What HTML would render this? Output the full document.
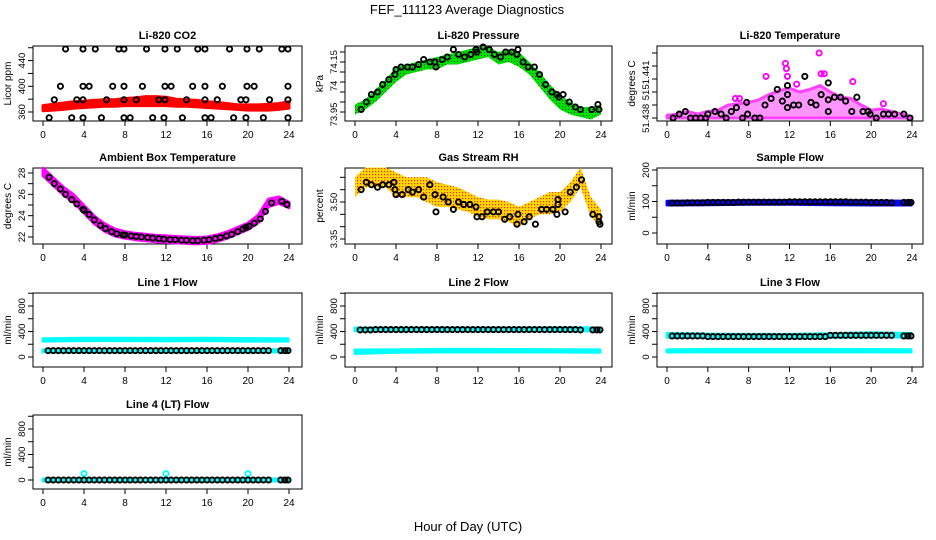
<!DOCTYPE html>
<html><head><meta charset="utf-8"><title>FEF_111123 Average Diagnostics</title>
<style>
html,body{margin:0;padding:0;background:#fff;}
svg{display:block;font-family:"Liberation Sans",Arial,sans-serif;}
.tk{font-size:10px;fill:#000;}
.ytk{font-size:9.5px;fill:#000;}
.ttl{font-size:11px;font-weight:bold;fill:#000;}
</style></head>
<body>
<svg id="fig" width="936" height="540" viewBox="0 0 936 540" xmlns="http://www.w3.org/2000/svg">
<defs>
<pattern id="rhPat" width="3" height="3" patternUnits="userSpaceOnUse"><rect width="3" height="3" fill="#ffd700"/><rect x="0" y="0" width="1.2" height="1.2" fill="#e8301a"/></pattern>
<pattern id="grPat" width="3" height="3" patternUnits="userSpaceOnUse"><rect width="3" height="3" fill="#00e000"/><rect x="1" y="1" width="1" height="1" fill="#1a5a1a"/></pattern>
</defs>
<rect x="0" y="0" width="936" height="540" fill="#fff"/>
<text x="467" y="14" text-anchor="middle" font-size="13">FEF_111123  Average Diagnostics</text>
<text x="468" y="531" text-anchor="middle" font-size="13">Hour of Day (UTC)</text>
</svg>
<script>
// ---------- data ----------
const xTicks = [0,4,8,12,16,20,24];
const bandHours = [0,1,2,3,4,5,6,7,8,9,10,11,12,13,14,15,16,17,18,19,20,21,22,23,24];
const flatHours = [0,4,8,12,16,20,23.9];

// Li-820 CO2
const co2Lo = [362,363,364,366,367,368,369,369,370,370,370,370,370,369,369,368,367,366,365,364,363,363,363,364,366];
const co2Hi = [370,372,374,376,377,378,379,379,381,382,384,384,383,380,379,378,376,375,373,371,371,371,372,373,376];
const co2PtX = [2.2,3.9,5.1,7.4,7.9,10.1,11.9,13.1,15.1,15.8,18.2,19.9,21.1,23.3,23.9, 1.7,3.9,4.5,6.8,7.9,9.7,11.9,12.5,14.6,15.8,17.5,19.9,20.6,23.9, 1.1,3.3,3.9,6.2,7.9,9.1,11.3,11.9,14.0,15.8,17.0,19.3,19.8,22.1,23.9, 0.6,2.8,3.9,5.7,7.9,8.5,10.7,11.8,13.6,15.8,16.4,18.6,19.8,21.5,23.9];
const co2PtY = [458,458,458,458,458,458,458,458,458,458,458,458,458,458,458, 400,400,400,400,400,400,400,400,400,400,400,400,400,400, 379,379,379,379,379,379,379,379,379,379,379,379,379,379,379, 351,351,351,351,351,351,351,351,351,351,351,351,351,351,351];

// Li-820 Pressure
const presLo = [73.94,73.96,73.99,74.03,74.07,74.10,74.11,74.12,74.12,74.14,74.14,74.15,74.16,74.17,74.14,74.15,74.13,74.10,74.05,74.00,73.96,73.94,73.93,73.92,73.94];
const presHi = [73.98,74.00,74.04,74.08,74.13,74.14,74.15,74.16,74.17,74.18,74.19,74.20,74.21,74.21,74.19,74.20,74.19,74.15,74.11,74.06,74.02,73.99,73.97,73.97,73.98];
const presPtX = [0.6,1.1,1.6,2.2,2.7,3.3,3.9,4.0,4.5,5.1,5.6,6.2,6.7,7.3,7.8,7.9,8.5,9.0,9.6,10.1,10.7,11.3,11.8,11.9,12.5,13.1,13.6,14.2,14.7,15.3,15.8,15.9,16.4,16.9,17.5,18.0,18.6,19.2,19.7,19.9,20.3,20.9,21.5,22.0,23.1,23.7,23.8];
const presPtY = [73.96,73.99,74.02,74.03,74.06,74.08,74.10,74.12,74.13,74.13,74.13,74.14,74.16,74.15,74.15,74.13,74.16,74.17,74.20,74.18,74.17,74.18,74.20,74.19,74.21,74.20,74.18,74.17,74.19,74.19,74.18,74.20,74.15,74.13,74.13,74.10,74.06,74.03,74.02,74.01,74.02,73.99,73.97,73.96,73.96,73.98,73.96];

// Li-820 Temperature
const tmpLo = [51.4380,51.4380,51.4380,51.4380,51.4380,51.4380,51.4380,51.4380,51.4380,51.4380,51.4380,51.4380,51.4380,51.4380,51.4380,51.4380,51.4380,51.4380,51.4380,51.4380,51.4380,51.4380,51.4380,51.4380,51.4380];
const tmpHi = [51.4382,51.4383,51.4385,51.4383,51.4385,51.4386,51.4390,51.4391,51.4392,51.4394,51.4398,51.4401,51.4403,51.4400,51.4402,51.4405,51.4400,51.4396,51.4395,51.4390,51.4386,51.4387,51.4385,51.4383,51.4381];
const tmpOutX = [11.6,11.7,14.9,15.1,9.7,11.8,21.2,6.7,7.1,15.4,12.7,18.2];
const tmpOutY = [51.4422,51.4418,51.4430,51.4414,51.4412,51.4412,51.4391,51.4395,51.4395,51.4414,51.4406,51.4408];
const tmpPtX = [0.6,1.2,1.8,2.3,2.8,3.3,3.8,4.0,4.7,5.3,5.8,6.3,6.8,7.4,7.9,7.8,8.6,9.1,9.6,10.2,10.8,11.3,11.8,11.8,11.8,12.4,12.9,13.5,14.1,14.6,15.1,15.8,15.8,15.8,16.4,17.0,17.5,18.1,18.6,19.2,19.7,19.9,20.5,21.2,21.7,22.3,23.2,23.8];
const tmpPtY = [51.4380,51.4383,51.4385,51.4380,51.4380,51.4380,51.4380,51.4383,51.4385,51.4383,51.4380,51.4385,51.4388,51.4380,51.4383,51.4392,51.4380,51.4380,51.4390,51.4395,51.4402,51.4393,51.4398,51.4405,51.4388,51.4390,51.4390,51.4412,51.4392,51.4390,51.4398,51.4385,51.4394,51.4407,51.4396,51.4396,51.4393,51.4385,51.4396,51.4385,51.4385,51.4383,51.4380,51.4383,51.4383,51.4383,51.4383,51.4380];

// Ambient Box Temperature
const ambLo = [27.75,26.85,25.95,25.25,24.25,23.25,22.55,22.1,21.9,21.75,21.65,21.55,21.5,21.45,21.4,21.35,21.4,21.6,21.9,22.3,22.7,23.35,24.85,25.15,24.75];
const ambHi = [28.45,27.55,26.65,25.95,24.95,23.95,23.25,22.75,22.5,22.35,22.25,22.15,22.1,22.05,22.0,21.95,22.0,22.2,22.5,22.9,23.3,24.05,25.55,25.75,25.25];
const ambPtX = [0.6,1.1,1.7,2.2,2.8,3.3,3.9,4.0,4.5,5.0,5.6,6.1,6.7,7.2,7.8,8.0,8.6,9.1,9.6,10.2,10.7,11.3,11.8,12.4,12.9,13.5,14.0,14.6,15.1,15.7,16.2,16.8,17.3,17.9,18.4,19.0,19.5,19.8,20.1,20.6,21.2,21.7,22.3,23.3,23.8];
const ambPtY = [27.6,27.0,26.5,26.0,25.5,25.1,24.6,24.5,24.1,23.6,23.1,22.8,22.5,22.3,22.2,22.2,22.1,22.05,22.0,21.95,21.9,21.85,21.8,21.75,21.75,21.7,21.7,21.65,21.65,21.7,21.75,21.85,21.95,22.1,22.25,22.5,22.75,22.9,23.0,23.3,23.7,24.4,25.2,25.35,25.05];

// Gas Stream RH
const rhLo = [3.52,3.56,3.56,3.56,3.52,3.52,3.52,3.50,3.48,3.48,3.47,3.46,3.44,3.43,3.43,3.42,3.40,3.43,3.45,3.45,3.46,3.50,3.56,3.44,3.40];
const rhHi = [3.60,3.64,3.64,3.64,3.62,3.60,3.60,3.60,3.58,3.57,3.56,3.54,3.52,3.51,3.51,3.50,3.48,3.50,3.52,3.54,3.54,3.58,3.64,3.52,3.47];
const rhPtX = [0.6,1.1,1.6,2.2,2.7,3.3,3.8,3.9,4.0,4.6,5.2,5.6,6.2,6.7,7.3,7.8,7.9,8.6,9.1,9.6,10.1,10.6,11.2,11.8,11.9,12.4,12.9,13.5,14.0,14.6,15.1,15.8,15.9,16.5,17.0,17.6,18.2,18.7,19.3,19.7,19.8,19.8,20.5,21.0,21.6,22.1,23.2,23.8,23.8,23.9];
const rhPtY = [3.55,3.58,3.57,3.56,3.57,3.57,3.58,3.55,3.53,3.53,3.55,3.54,3.55,3.52,3.57,3.53,3.46,3.52,3.50,3.47,3.50,3.49,3.49,3.48,3.44,3.44,3.46,3.46,3.46,3.43,3.44,3.41,3.45,3.42,3.44,3.41,3.47,3.47,3.47,3.45,3.49,3.51,3.46,3.54,3.56,3.59,3.45,3.44,3.42,3.41];

// Flows
const flowHours = [0.5,1.0,1.5,2.0,2.5,3.0,3.5,4.0,4.5,5.0,5.5,6.0,6.5,7.0,7.5,8.0,8.5,9.0,9.5,10.0,10.5,11.0,11.5,12.0,12.5,13.0,13.5,14.0,14.5,15.0,15.5,16.0,16.5,17.0,17.5,18.0,18.5,19.0,19.5,20.0,20.5,21.0,21.5,22.0,23.2,23.6,23.9];
const sampleAvg = [95,95,96,96,97,97,97,98,98,98,98,98,99,99,99,99,99,99,98,98,97,97,96,97];
const sampleBandLo = [89,90,91,91,90,89,89];
const sampleBandHi = [101,102,103,103,103,102,101];
const line1Avg = [100,100,100,100,100,100,100,100,100,100,100,100,100,100,100,100,100,100,100,100,100,100,100,100];
const line1UpLo = [250,258,258,252,258,250,250];
const line1UpHi = [285,295,295,292,295,288,285];
const line1LowLo = [80,82,82,82,82,82,80];
const line1LowHi = [115,115,115,115,115,115,115];
const line2Avg = [425,425,430,430,430,430,430,430,430,430,430,430,430,430,430,430,430,430,430,430,430,430,425,425];
const line2UpLo = [410,410,412,412,412,412,410];
const line2UpHi = [455,452,455,455,455,458,455];
const line2LowLo = [55,75,78,78,78,78,75];
const line2LowHi = [110,112,120,120,118,115,112];
const line3Avg = [330,330,330,330,320,320,320,320,320,320,320,320,320,320,320,320,340,340,340,340,340,340,340,330];
const line3UpLo = [310,305,305,305,310,315,310];
const line3UpHi = [370,360,355,355,365,380,370];
const line3LowLo = [78,80,80,80,80,80,78];
const line3LowHi = [112,120,120,120,120,118,115];
const line4Avg = [0,0,0,0,0,0,0,0,0,0,0,0,0,0,0,0,0,0,0,0,0,0,0,0];
const line4BandLo = [-15,-15,-15,-15,-15,-15,-15];
const line4BandHi = [15,15,15,15,15,15,15];
const line4SpikeX = [4,12,20];
const line4SpikeY = [100,100,100];

// ---------- drawing ----------
const NS = "http://www.w3.org/2000/svg";
const svg = document.getElementById('fig');
function mk(tag, attrs, parent){ const e=document.createElementNS(NS,tag); for(const k in attrs) e.setAttribute(k,attrs[k]); (parent||svg).appendChild(e); return e; }

const cols = [{l:33,r:302,x0:43,x24:289},{l:345,r:612,x0:355,x24:601},{l:657,r:923,x0:667,x24:912}];
const rows = [{t:46,b:121},{t:168,b:244},{t:293,b:367},{t:415,b:489}];

function makePanel(name, title, ylab, ci, ri, v1, p1, v2, p2, ticks, labels, labelVals){
  const c=cols[ci], r=rows[ri];
  const g=mk('g',{});
  
  
  const P={c, r, g,
    sx:h=>c.x0+(c.x24-c.x0)*h/24,
    sy:v=>p1+(v-v1)*(p2-p1)/(v2-v1)};
  const box=mk('rect',{x:c.l,y:r.t,width:c.r-c.l,height:r.b-r.t,fill:'none',stroke:'#000','stroke-width':1},g);
  
  
  const t=mk('text',{x:(c.l+c.r)/2,y:r.t-7,'text-anchor':'middle',class:'ttl'},g);
  t.textContent=title;
  
  
  const ym=(r.t+r.b)/2;
  const yl=mk('text',{x:0,y:0,'text-anchor':'middle',class:'tk',transform:`translate(${c.l-22},${ym}) rotate(-90)`},g);
  yl.textContent=ylab;
  
  
  const xa=mk('g',{},g);
  
  
  mk('line',{x1:P.sx(xTicks[0]),x2:P.sx(xTicks[xTicks.length-1]),y1:r.b,y2:r.b,stroke:'#000'},xa);
  xTicks.forEach(h=>{
    mk('line',{x1:P.sx(h),x2:P.sx(h),y1:r.b,y2:r.b+5,stroke:'#000'},xa);
    const tx=mk('text',{x:P.sx(h),y:r.b+17,'text-anchor':'middle',class:'tk'},xa);
    tx.textContent=String(h);
  });
  const ya=mk('g',{},g);
  
  
  mk('line',{x1:c.l,x2:c.l,y1:P.sy(ticks[0]),y2:P.sy(ticks[ticks.length-1]),stroke:'#000'},ya);
  ticks.forEach(v=>{
    const y=P.sy(v);
    mk('line',{x1:c.l-5,x2:c.l,y1:y,y2:y,stroke:'#000'},ya);
  });
  const lv = labelVals || ticks;
  labels.forEach((s,i)=>{
    if(!s) return;
    const y=P.sy(lv[i]);
    const tx=mk('text',{x:0,y:0,'text-anchor':'middle',class:'ytk',transform:`translate(${c.l-8},${y}) rotate(-90)`},ya);
    tx.textContent=s;
  });
  return P;
}
function band(P, name, hours, lo, hi, fill, op){
  let pts=[];
  hours.forEach((h,i)=>pts.push(P.sx(h).toFixed(1)+','+P.sy(hi[i]).toFixed(1)));
  for(let i=hours.length-1;i>=0;i--) pts.push(P.sx(hours[i]).toFixed(1)+','+P.sy(lo[i]).toFixed(1));
  const e=mk('polygon',{points:pts.join(' '),fill:fill,stroke:fill.startsWith('url')?'none':fill,'stroke-width':3,'stroke-linejoin':'round','fill-opacity':op||1},P.g);
  
  
}
function points(P, name, xs, ys, color, r){
  const g=mk('g',{},P.g);
  
  
  xs.forEach((h,i)=>{
    const c=mk('circle',{cx:P.sx(h),cy:P.sy(ys[i]),r:r||2.6,fill:'none',stroke:color,'stroke-width':1.9},g);
    
    
  });
}
function binned(arr){ return flowHours.map(h=>arr[Math.min(23,Math.floor(h))]); }

let P=makePanel('co2','Li-820 CO2','Licor ppm',0,0,360,112,400,86.3,[360,380,400,420,440,460],['360','','400','','440','']);
band(P,'co2-band',bandHours,co2Lo,co2Hi,'#ff0000');
points(P,'co2-averages',co2PtX,co2PtY,'#000');

P=makePanel('pressure','Li-820 Pressure','kPa',1,0,73.95,112,74.15,62,[73.95,73.99,74.03,74.07,74.11,74.15,74.19],['73.95','74','74.15'],[73.94,74.054,74.15]);
band(P,'pressure-band',bandHours,presLo,presHi,'url(#grPat)');
points(P,'pressure-averages',presPtX,presPtY,'#000');

P=makePanel('temperature','Li-820 Temperature','degrees C',2,0,51.438,118,51.441,79,[51.438,51.439,51.440,51.441,51.442,51.443],['51.438','51','51.441'],[51.43797,51.43977,51.44131]);
band(P,'temperature-band',bandHours,tmpLo,tmpHi,'#ff40ff',0.55);
points(P,'temperature-outliers',tmpOutX,tmpOutY,'#ff00ff');
points(P,'temperature-averages',tmpPtX,tmpPtY,'#000');

P=makePanel('ambient','Ambient Box Temperature','degrees C',0,1,22,237,28,173,[22,23,24,25,26,27,28],['22','','24','','26','','28']);
band(P,'ambient-band',bandHours,ambLo,ambHi,'#ff00ff');
points(P,'ambient-averages',ambPtX,ambPtY,'#000');

P=makePanel('rh','Gas Stream RH','percent',1,1,3.35,239,3.50,202,[3.35,3.40,3.45,3.50,3.55,3.60],['3.35','','','3.50','','']);
band(P,'rh-band',bandHours,rhLo,rhHi,'url(#rhPat)');
points(P,'rh-averages',rhPtX,rhPtY,'#000');

P=makePanel('sample-flow','Sample Flow','ml/min',2,1,0,233,200,170,[0,50,100,150,200],['0','','100','','200']);
band(P,'sample-flow-band',flatHours,sampleBandLo,sampleBandHi,'#0000ff');
points(P,'sample-flow-averages',flowHours,binned(sampleAvg),'#000');

const flowTicks=[0,200,400,600,800,1000], flowLabels=['0','','400','','800',''];
P=makePanel('line1','Line 1 Flow','ml/min',0,2,0,357,800,306,flowTicks,flowLabels);
band(P,'line1-upper-band',flatHours,line1UpLo,line1UpHi,'#00ffff');
band(P,'line1-lower-band',flatHours,line1LowLo,line1LowHi,'#00ffff');
points(P,'line1-averages',flowHours,binned(line1Avg),'#000');
P=makePanel('line2','Line 2 Flow','ml/min',1,2,0,357,800,306,flowTicks,flowLabels);
band(P,'line2-upper-band',flatHours,line2UpLo,line2UpHi,'#00ffff');
band(P,'line2-lower-band',flatHours,line2LowLo,line2LowHi,'#00ffff');
points(P,'line2-averages',flowHours,binned(line2Avg),'#000');
P=makePanel('line3','Line 3 Flow','ml/min',2,2,0,357,800,306,flowTicks,flowLabels);
band(P,'line3-upper-band',flatHours,line3UpLo,line3UpHi,'#00ffff');
band(P,'line3-lower-band',flatHours,line3LowLo,line3LowHi,'#00ffff');
points(P,'line3-averages',flowHours,binned(line3Avg),'#000');
P=makePanel('line4','Line 4 (LT) Flow','ml/min',0,3,0,480,800,429,flowTicks,flowLabels);
band(P,'line4-band',flatHours,line4BandLo,line4BandHi,'#00ffff');
points(P,'line4-spikes',line4SpikeX,line4SpikeY,'#00ffff');
points(P,'line4-averages',flowHours,binned(line4Avg),'#000');
</script>
</body></html>
